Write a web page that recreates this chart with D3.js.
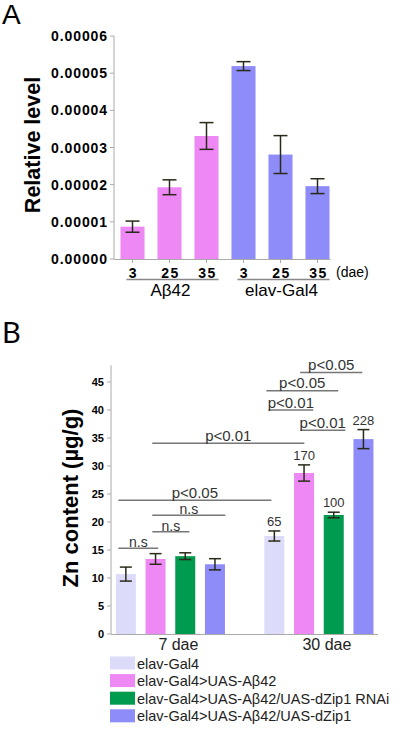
<!DOCTYPE html>
<html><head><meta charset="utf-8">
<script src="https://cdn.jsdelivr.net/npm/d3@7"></script>
<style>body{margin:0;background:#fff}svg{display:block;font-family:"Liberation Sans",Arial,sans-serif}</style>
</head><body>
<script>
// ---------- Panel A data ----------
const aCategories = ["3","25","35","3","25","35"];
const aGroups = ["Aβ42","elav-Gal4"];
const aValues = [0.0000087, 0.0000193, 0.0000331, 0.0000519, 0.0000281, 0.0000196];
const aErrors = [0.0000015, 0.0000020, 0.0000036, 0.0000012, 0.0000051, 0.0000020];
const aColors = ["#ee88f5","#ee88f5","#ee88f5","#8d8cf8","#8d8cf8","#8d8cf8"];
const aTicks = [0, 0.00001, 0.00002, 0.00003, 0.00004, 0.00005, 0.00006];

// ---------- Panel B data ----------
const bTimepoints = ["7 dae","30 dae"];
const bSeries = ["elav-Gal4","elav-Gal4>UAS-Aβ42","elav-Gal4>UAS-Aβ42/UAS-dZip1 RNAi","elav-Gal4>UAS-Aβ42/UAS-dZip1"];
const bColors = ["#dcdcfa","#ee88f5","#009b4e","#8d8cf8"];
const bValues7 = [10.7, 13.4, 13.9, 12.45];
const bErrors7 = [1.25, 0.95, 0.6, 1.0];
const bValues30 = [17.5, 28.75, 21.25, 34.8];
const bErrors30 = [0.9, 1.45, 0.5, 1.7];
const bPercent30 = ["65","170","100","228"];
const bTicks = [0,5,10,15,20,25,30,35,40,45];
// significance annotations: [from slot, to slot, y value, label]
const bSig = [
  [-0.25, 1.09, 15.3, "n.s"],
  [0.89, 2.14, 18.27, "n.s"],
  [0.89, 3.35, 21.2, "n.s"],
  [-0.25, 4.9, 23.9, "p<0.05"],
  [0.89, 6.01, 34.05, "p<0.01"],
  [5.87, 7.39, 36.4, "p<0.01"],
  [4.80, 6.31, 40.0, "p<0.01"],
  [4.73, 7.15, 43.45, "p<0.05"],
  [5.87, 7.96, 46.7, "p<0.05"]
];

const svg = d3.select("body").append("svg").attr("width",405).attr("height",730);
svg.append("rect").attr("width",405).attr("height",730).attr("fill","#fff");
const axisCol = "#aaa", errCol = "#2a2a1a";

// ================= Panel A =================
svg.append("text").attr("x",2).attr("y",24).attr("font-size",28).text("A");
const yA = d3.scaleLinear().domain([0,0.00006]).range([259,36]);
const xA = d3.scaleBand().domain(d3.range(6)).range([114,336]).paddingInner(0.35).paddingOuter(0.175);
const gA = svg.append("g");
// y axis
gA.append("line").attr("x1",114).attr("x2",114).attr("y1",yA(0.00006)).attr("y2",yA(0)).attr("stroke",axisCol);
aTicks.forEach(t=>{
  gA.append("line").attr("x1",110).attr("x2",114).attr("y1",yA(t)).attr("y2",yA(t)).attr("stroke",axisCol);
  gA.append("text").attr("x",108).attr("y",yA(t)+5).attr("text-anchor","end")
    .attr("font-size",14).attr("font-weight","bold").attr("letter-spacing",0.9).text(t.toFixed(5));
});
// bars
aValues.forEach((v,i)=>{
  gA.append("rect").attr("x",xA(i)).attr("y",yA(v)).attr("width",xA.bandwidth()).attr("height",yA(0)-yA(v)).attr("fill",aColors[i]);
});
// baseline
gA.append("line").attr("x1",114).attr("x2",xA(5)+xA.bandwidth()+1).attr("y1",yA(0)+0.5).attr("y2",yA(0)+0.5).attr("stroke",axisCol);
// error bars
aValues.forEach((v,i)=>{
  const cx = xA(i)+xA.bandwidth()/2, e=aErrors[i];
  const g = gA.append("g").attr("stroke",errCol).attr("stroke-width",1.5);
  g.append("line").attr("x1",cx).attr("x2",cx).attr("y1",yA(v+e)).attr("y2",yA(v-e));
  g.append("line").attr("x1",cx-7).attr("x2",cx+7).attr("y1",yA(v+e)).attr("y2",yA(v+e));
  g.append("line").attr("x1",cx-7).attr("x2",cx+7).attr("y1",yA(v-e)).attr("y2",yA(v-e));
  gA.append("line").attr("x1",cx).attr("x2",cx).attr("y1",yA(0)).attr("y2",yA(0)+4).attr("stroke",axisCol);
  gA.append("text").attr("x",cx+1).attr("y",278).attr("text-anchor","middle").attr("font-size",14)
    .attr("font-weight","bold").attr("letter-spacing",1.5).text(aCategories[i]);
});
// group underline + labels
aGroups.forEach((gname,k)=>{
  const x1 = xA(k*3)+6, x2 = xA(k*3+2)+xA.bandwidth();
  gA.append("line").attr("x1",x1).attr("x2",x2).attr("y1",279.5).attr("y2",279.5).attr("stroke","#888").attr("stroke-width",1.5);
  gA.append("text").attr("x",(xA(k*3)+xA(k*3+2)+xA.bandwidth())/2+1).attr("y",296).attr("text-anchor","middle").attr("font-size",17).text(gname);
});
gA.append("text").attr("x",336).attr("y",277).attr("font-size",14).text("(dae)");
gA.append("text").attr("transform","translate(40,145) rotate(-90)").attr("text-anchor","middle")
  .attr("font-size",21.5).attr("font-weight","bold").text("Relative level");

// ================= Panel B =================
svg.append("text").attr("x",2).attr("y",343).attr("font-size",29).attr("font-family","Lato, sans-serif").text("B");
const yB = d3.scaleLinear().domain([0,48]).range([634,365.2]);
const xB = d3.scaleBand().domain(d3.range(9)).range([111,378.3]).paddingInner(0.327).paddingOuter(0.1635);
const slotX = d3.scaleLinear().domain([0,8]).range([xB(0)+xB.bandwidth()/2, xB(8)+xB.bandwidth()/2]);
const gB = svg.append("g");
gB.append("line").attr("x1",111).attr("x2",111).attr("y1",yB(48)).attr("y2",yB(0)).attr("stroke",axisCol);
bTicks.forEach(t=>{
  gB.append("line").attr("x1",107).attr("x2",111).attr("y1",yB(t)).attr("y2",yB(t)).attr("stroke",axisCol);
  gB.append("text").attr("x",104).attr("y",yB(t)+4).attr("text-anchor","end").attr("font-size",11).attr("font-weight","bold").text(t);
});
const groupsB = [[bValues7,bErrors7,0],[bValues30,bErrors30,5]];
groupsB.forEach(([vals,errs,off])=>{
  vals.forEach((v,i)=>{
    gB.append("rect").attr("x",xB(off+i)).attr("y",yB(v)).attr("width",xB.bandwidth()).attr("height",yB(0)-yB(v)).attr("fill",bColors[i]);
  });
});
gB.append("line").attr("x1",111).attr("x2",378).attr("y1",yB(0)+0.5).attr("y2",yB(0)+0.5).attr("stroke",axisCol);
groupsB.forEach(([vals,errs,off])=>{
  vals.forEach((v,i)=>{
    const cx = xB(off+i)+xB.bandwidth()/2, e=errs[i];
    const g = gB.append("g").attr("stroke",errCol).attr("stroke-width",1.5);
    g.append("line").attr("x1",cx).attr("x2",cx).attr("y1",yB(v+e)).attr("y2",yB(v-e));
    g.append("line").attr("x1",cx-6).attr("x2",cx+6).attr("y1",yB(v+e)).attr("y2",yB(v+e));
    g.append("line").attr("x1",cx-6).attr("x2",cx+6).attr("y1",yB(v-e)).attr("y2",yB(v-e));
  });
});
bValues30.forEach((v,i)=>{
  const cx = xB(5+i)+xB.bandwidth()/2;
  gB.append("text").attr("x",cx).attr("y",yB(v+bErrors30[i])-5).attr("text-anchor","middle").attr("font-size",13).attr("fill","#333").text(bPercent30[i]);
});
bSig.forEach(([s0,s1,y,lab])=>{
  const x0=slotX(s0), x1=slotX(s1);
  gB.append("line").attr("x1",x0).attr("x2",x1).attr("y1",yB(y)).attr("y2",yB(y)).attr("stroke","#777").attr("stroke-width",1.5);
  const ns = lab==="n.s";
  gB.append("text").attr("x",(x0+x1)/2).attr("y",yB(y)-(ns?1:2.5)).attr("text-anchor","middle")
    .attr("font-size",ns?14:15).attr("fill","#333").text(lab);
});
bTimepoints.forEach((t,k)=>{
  const cx = (slotX(k*5)+slotX(k*5+3))/2 + 8;
  gB.append("text").attr("x",cx).attr("y",650).attr("text-anchor","middle").attr("font-size",16).attr("fill","#222").text(t);
});
gB.append("text").attr("transform","translate(78,498) rotate(-90)").attr("text-anchor","middle")
  .attr("font-size",22).attr("font-weight","bold").text("Zn content (µg/g)");
// legend
bSeries.forEach((s,i)=>{
  const cy = 663 + i*17.6;
  gB.append("rect").attr("x",110).attr("y",cy-6.5).attr("width",25).attr("height",13).attr("fill",bColors[i]);
  gB.append("text").attr("x",137).attr("y",cy+5.5).attr("font-size",14.5).attr("fill","#222").text(s);
});
</script>
</body></html>
